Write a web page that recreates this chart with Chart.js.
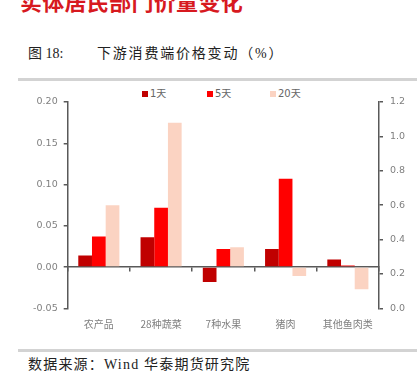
<!DOCTYPE html>
<html>
<head>
<meta charset="utf-8">
<script src="https://cdn.jsdelivr.net/npm/chart.js@4.4.1/dist/chart.umd.min.js"></script>
<style>
  body { margin: 0; width: 417px; height: 381px; overflow: hidden; background: #fff; position: relative; }
  .abs { position: absolute; white-space: nowrap; }
  #bigTitle { left: 20px; top: -11px; font: bold 22px "Noto Sans CJK SC"; color: #d7191f; letter-spacing: 0.3px; line-height: 22px; }
  #figNo { left: 28px; top: 42px; font: 14px "Liberation Serif", "Noto Sans CJK SC"; color: #222; }
  #figTitle { left: 97px; top: 42px; font: 14px "Liberation Serif", "Noto Sans CJK SC"; color: #222; letter-spacing: 1.8px; }
  .rule { position: absolute; left: 18px; width: 399px; height: 3px; background: #d3d3d3; }
  #source { left: 28px; top: 353px; font: 14px "Liberation Serif", "Noto Sans CJK SC"; color: #222; letter-spacing: 1.2px; }
  #legend { position: absolute; top: 87px; left: 0; width: 417px; height: 14px; font: 10px "DejaVu Sans", "Noto Sans CJK SC"; color: #666; }
  .item { position: absolute; top: 0; line-height: 14px; }
  .box { display: inline-block; width: 6px; height: 6px; margin-right: 2px; vertical-align: 0px; }
  #wrap { position: absolute; left: 0; top: 82px; width: 417px; height: 256px; }
</style>
</head>
<body>
<div id="bigTitle" class="abs">实体居民部门价量变化</div>
<div id="figNo" class="abs">图 18:</div>
<div id="figTitle" class="abs">下游消费端价格变动（%）</div>
<div class="rule" style="top:78px"></div>
<div id="legend"></div>
<div id="wrap"><canvas id="chart"></canvas></div>
<div class="rule" style="top:349px"></div>
<div id="source" class="abs">数据来源：Wind 华泰期货研究院</div>
<script>
const categories = ["农产品", "28种蔬菜", "7种水果", "猪肉", "其他鱼肉类"];
const seriesNames = ["1天", "5天", "20天"];
const seriesColors = ["#C00000", "#FF0000", "#FBD3C2"];
const day1 = [0.014, 0.036, -0.018, 0.022, 0.009];
const day5 = [0.037, 0.072, 0.022, 0.107, 0.002];
const day20 = [0.075, 0.175, 0.024, -0.011, -0.027];
const leftTicks = [-0.05, 0.0, 0.05, 0.1, 0.15, 0.2];
const rightTicks = [0.0, 0.2, 0.4, 0.6, 0.8, 1.0, 1.2];

// legend (html, spaced like the original)
const legendX = [142, 207, 270];
const legend = document.getElementById("legend");
seriesNames.forEach((name, i) => {
  const el = document.createElement("div");
  el.className = "item";
  el.style.left = legendX[i] + "px";
  el.innerHTML = '<span class="box" style="background:' + seriesColors[i] + '"></span>' + name;
  legend.appendChild(el);
});

const axisColor = "#595959";
const tickColor = "#7f7f7f";
const tickFont = { family: '"DejaVu Sans", "Noto Sans CJK SC"', size: 9.5 };

const allSeries = [day1, day5, day20];
const datasets = allSeries.map((values, i) => ({
  label: seriesNames[i],
  data: values,
  backgroundColor: seriesColors[i],
  borderWidth: 0,
  barPercentage: 1,
  categoryPercentage: 0.66,
  xAxisID: "x",
  yAxisID: "y",
}));

new Chart(document.getElementById("chart"), {
  type: "bar",
  data: { labels: categories, datasets: datasets },
  options: {
    responsive: true,
    maintainAspectRatio: false,
    animation: false,
    layout: { padding: { top: 20, left: 0, right: 0, bottom: 0 } },
    plugins: { legend: { display: false }, tooltip: { enabled: false } },
    scales: {
      x: {
        position: "bottom",
        grid: { display: false },
        border: { display: false },
        ticks: { color: tickColor, font: { family: '"Noto Sans CJK SC"', size: 10 }, padding: 2, maxRotation: 0 },
        afterFit: (s) => { s.height = 29.7; },
      },
      // zero line with category ticks
      x2: {
        type: "category",
        position: { y: 0 },
        offset: true,
        z: 1,
        grid: { offset: true, drawOnChartArea: false, drawTicks: true, tickLength: 4, color: axisColor, lineWidth: 1.5 },
        border: { color: axisColor, width: 1.5 },
        ticks: { display: false },
      },
      y: {
        position: "left",
        min: leftTicks[0],
        max: leftTicks[leftTicks.length - 1],
        ticks: { stepSize: 0.05, color: tickColor, font: tickFont, padding: 6, callback: (v) => v.toFixed(2) },
        grid: { drawOnChartArea: false, drawTicks: true, tickLength: 4, color: axisColor, lineWidth: 1.5 },
        border: { color: axisColor, width: 1.5 },
        afterFit: (s) => { s.width = 67.7; },
      },
      y1: {
        position: "right",
        min: rightTicks[0],
        max: rightTicks[rightTicks.length - 1],
        ticks: { stepSize: 0.2, color: tickColor, font: tickFont, padding: 7, callback: (v) => v.toFixed(1) },
        grid: { drawOnChartArea: false, drawTicks: true, tickLength: 4, color: axisColor, lineWidth: 1.5 },
        border: { color: axisColor, width: 1.5 },
        afterFit: (s) => { s.width = 38; },
      },
    },
  },
});
</script>
</body>
</html>
